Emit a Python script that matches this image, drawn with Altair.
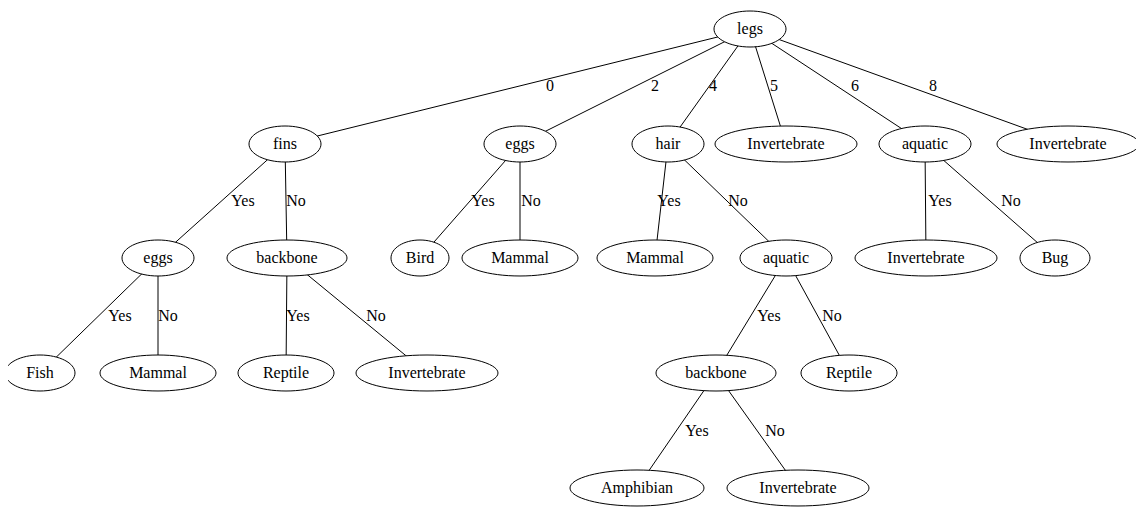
import altair as alt
import pandas as pd

# nodes of the decision tree (graphviz-like layout, pixel coords)
node_id = list(range(23))
node_label = ["legs", "fins", "eggs", "hair", "Invertebrate", "aquatic", "Invertebrate",
              "eggs", "backbone", "Bird", "Mammal", "Mammal", "aquatic", "Invertebrate", "Bug",
              "Fish", "Mammal", "Reptile", "Invertebrate", "backbone", "Reptile",
              "Amphibian", "Invertebrate"]
node_x = [750, 285, 520, 668, 786, 925, 1068,
          158, 287, 420, 520, 655, 786, 926, 1055,
          40, 158, 286, 427, 716, 849,
          637, 798]
node_y = [29, 144, 144, 144, 144, 144, 144,
          258, 258, 258, 258, 258, 258, 258, 258,
          373, 373, 373, 373, 373, 373,
          488, 488]
node_rx = {"legs": 36, "fins": 36, "eggs": 36, "hair": 36, "Invertebrate": 71,
           "aquatic": 46, "backbone": 60, "Bird": 29, "Mammal": 58, "Fish": 35,
           "Reptile": 48, "Amphibian": 67, "Bug": 35}
ry = 18

edge_from = [0, 0, 0, 0, 0, 0, 1, 1, 2, 2, 3, 3, 5, 5, 7, 7, 8, 8, 12, 12, 19, 19]
edge_to = [1, 2, 3, 4, 5, 6, 7, 8, 9, 10, 11, 12, 13, 14, 15, 16, 17, 18, 19, 20, 21, 22]

edge_text = ["0", "2", "4", "5", "6", "8",
             "Yes", "No", "Yes", "No", "Yes", "No", "Yes", "No",
             "Yes", "No", "Yes", "No", "Yes", "No", "Yes", "No"]
text_x = [550, 655, 713, 774, 855, 933,
          243, 296, 483, 531, 669, 738, 940, 1011,
          120, 168, 298, 376, 769, 832, 697, 775]
text_y = [86] * 6 + [201] * 8 + [316] * 6 + [431] * 2

nodes = pd.DataFrame({"id": node_id, "label": node_label, "x": node_x, "y": node_y})
nodes["rx"] = nodes["label"].map(node_rx)
nodes["shape"] = [f"M -1 0 A 1 {ry / r:.4f} 0 1 0 1 0 A 1 {ry / r:.4f} 0 1 0 -1 0"
                  for r in nodes["rx"]]
nodes["size"] = (2 * nodes["rx"]) ** 2

rows = []
for i, (a, b) in enumerate(zip(edge_from, edge_to)):
    rows.append({"edge": i, "order": 0, "x": node_x[a], "y": node_y[a]})
    rows.append({"edge": i, "order": 1, "x": node_x[b], "y": node_y[b]})
edges = pd.DataFrame(rows)
elabels = pd.DataFrame({"t": edge_text, "x": text_x, "y": text_y})

xs = alt.Scale(domain=[8, 1136])
ys = alt.Scale(domain=[8, 509], reverse=True)
font = "Liberation Serif"

lines = alt.Chart(edges).mark_line(color="black", strokeWidth=1).encode(
    x=alt.X("x:Q", scale=xs, axis=None),
    y=alt.Y("y:Q", scale=ys, axis=None),
    detail="edge:N", order="order:Q")

ellipses = alt.Chart(nodes).mark_point(filled=False, fill="white", fillOpacity=1,
                                       stroke="black", strokeWidth=1, opacity=1).encode(
    x=alt.X("x:Q", scale=xs), y=alt.Y("y:Q", scale=ys),
    shape=alt.Shape("shape:N", scale=None),
    size=alt.Size("size:Q", scale=None))

ntext = alt.Chart(nodes).mark_text(font=font, fontSize=16, color="black").encode(
    x=alt.X("x:Q", scale=xs), y=alt.Y("y:Q", scale=ys), text="label:N")

etext = alt.Chart(elabels).mark_text(font=font, fontSize=16, color="black").encode(
    x=alt.X("x:Q", scale=xs), y=alt.Y("y:Q", scale=ys), text="t:N")

chart = alt.layer(lines, ellipses, ntext, etext).properties(
    width=1128, height=501, padding=0, autosize="none"
).configure_view(stroke=None)

chart.save("out.html", embed_options={"renderer": "svg", "actions": False})
